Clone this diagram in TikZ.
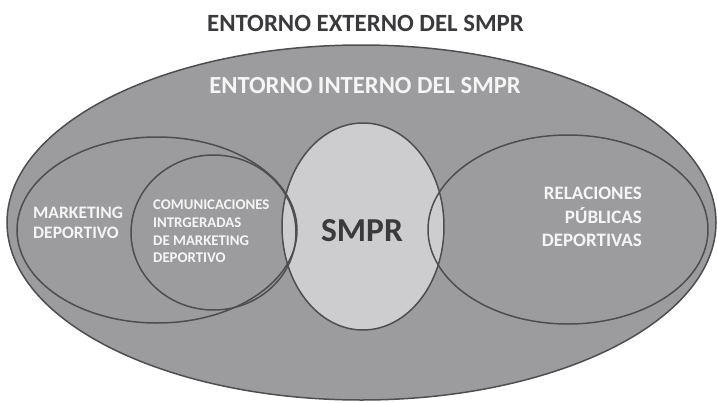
\documentclass[tikz,border=0pt]{standalone}
\usepackage{fontspec}
\setmainfont{Carlito}
\usetikzlibrary{shapes.geometric}
\definecolor{bgray}{RGB}{156,156,158}
\definecolor{lgray}{RGB}{205,205,207}
\definecolor{lgline}{RGB}{78,78,80}
\definecolor{tdark}{RGB}{58,58,60}
\definecolor{twhite}{RGB}{245,245,245}
\begin{document}
\begin{tikzpicture}[x=1pt,y=-1pt,
  oval/.style={ellipse, inner sep=0pt, draw=lgline, line width=1.5pt},
  wtext/.style={text=twhite, font=\bfseries, inner sep=0pt},
  dtext/.style={text=tdark, font=\bfseries, inner sep=0pt}]
\useasboundingbox (0,0) rectangle (718,402);
\node[oval, fill=bgray, minimum width=709pt, minimum height=355pt] (ext) at (361.5,222.5) {};
\node[ellipse, inner sep=0pt, fill=lgray, minimum width=162pt, minimum height=207pt] (smprfill) at (363,226.5) {};
\node[oval, minimum width=280pt, minimum height=186pt] (mkt) at (157,230) {};
\node[oval, minimum width=165pt, minimum height=155pt] (cim) at (213.5,232.5) {};
\node[oval, minimum width=280pt, minimum height=189pt] (rp) at (568,229.5) {};
\node[oval, minimum width=162pt, minimum height=207pt] (smpr) at (363,226.5) {};
\node[dtext, font=\bfseries\fontsize{24.8}{28}\selectfont] (t1) at (365.5,23) {ENTORNO EXTERNO DEL SMPR};
\node[wtext, font=\bfseries\fontsize{24.6}{28}\selectfont] (t2) at (365,86) {ENTORNO INTERNO DEL SMPR};
\node[wtext, anchor=west, align=left, font=\bfseries\fontsize{17.5}{20}\selectfont] (tm) at (33,223) {MARKETING\\DEPORTIVO};
\node[wtext, anchor=west, align=left, font=\bfseries\fontsize{14.8}{17.6}\selectfont] (tc) at (153,231.5) {COMUNICACIONES\\INTRGERADAS\\DE MARKETING\\DEPORTIVO};
\node[dtext, font=\bfseries\fontsize{33.5}{36}\selectfont] (ts) at (362,231) {SMPR};
\node[wtext, anchor=east, align=right, font=\bfseries\fontsize{19}{23.5}\selectfont] (tr) at (642,217) {RELACIONES\\PÚBLICAS\\DEPORTIVAS};
\end{tikzpicture}
\end{document}
